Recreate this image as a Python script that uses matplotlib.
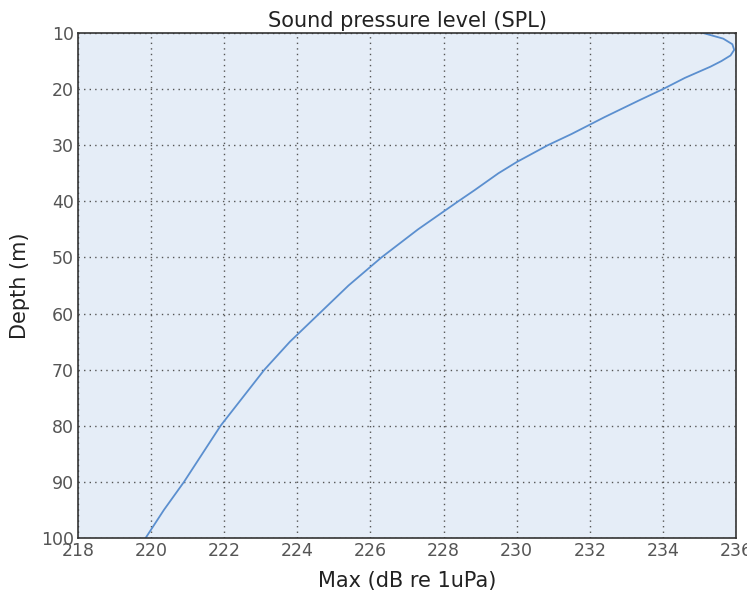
import matplotlib
matplotlib.use("Agg")
import matplotlib.pyplot as plt

depth = [10, 11, 12, 13, 14, 15, 16, 17, 18, 20, 22, 25, 28, 30, 33, 35, 38, 40, 45, 50, 55, 60, 65, 70, 75, 80, 85, 90, 95, 100]
spl_max = [235.1, 235.65, 235.9, 235.95, 235.85, 235.6, 235.3, 234.95, 234.6, 234.0, 233.35, 232.4, 231.5,
           230.85, 230.0, 229.5, 228.85, 228.4, 227.3, 226.3, 225.4, 224.6, 223.8, 223.1, 222.5, 221.9,
           221.4, 220.9, 220.35, 219.85]
xticks = [218, 220, 222, 224, 226, 228, 230, 232, 234, 236]
yticks = [10, 20, 30, 40, 50, 60, 70, 80, 90, 100]

fig = plt.figure(figsize=(7.47, 5.94), dpi=100)
ax = fig.add_axes([0.1044, 0.0943, 0.8809, 0.8501])
ax.set_facecolor("#e5edf7")
ax.plot(spl_max, depth, color="#5b8fcf", lw=1.3)
ax.set_xlim(218, 236)
ax.set_ylim(100, 10)
ax.set_xticks(xticks)
ax.set_yticks(yticks)
ax.grid(True, linestyle=(0, (1, 3)), color="#555555", lw=1.0)
ax.tick_params(length=0, labelsize=12.5, labelcolor="#555555", pad=3)
for s in ax.spines.values():
    s.set_color("#333333")
    s.set_linewidth(1.2)
ax.set_title("Sound pressure level (SPL)", fontsize=15, color="#222222", pad=4)
ax.set_xlabel("Max (dB re 1uPa)", fontsize=15, color="#222222", labelpad=8)
ax.set_ylabel("Depth (m)", fontsize=15, color="#222222", labelpad=8)
fig.savefig("out.png", dpi=100)
